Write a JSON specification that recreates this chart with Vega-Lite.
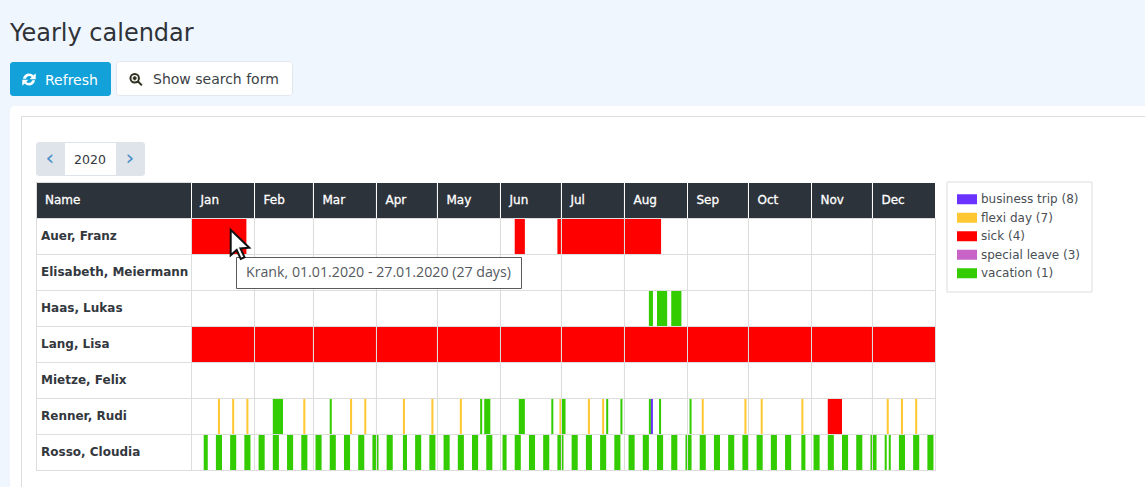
{
  "$schema": "https://vega.github.io/schema/vega-lite/v6.json",
  "width": 1145,
  "height": 487,
  "padding": 0,
  "autosize": {"type": "none"},
  "background": "#eff6fe",
  "config": {"view": {"stroke": null}, "font": "DejaVu Sans", "text": {"font": "DejaVu Sans"}},
  "datasets": {
    "names": [
      {"name": "Name"},
      {"name": "Auer, Franz"},
      {"name": "Elisabeth, Meiermann"},
      {"name": "Haas, Lukas"},
      {"name": "Lang, Lisa"},
      {"name": "Mietze, Felix"},
      {"name": "Renner, Rudi"},
      {"name": "Rosso, Cloudia"}
    ],
    "months": [
      {"month": "Jan", "from": 0, "to": 31},
      {"month": "Feb", "from": 31, "to": 60},
      {"month": "Mar", "from": 60, "to": 91},
      {"month": "Apr", "from": 91, "to": 121},
      {"month": "May", "from": 121, "to": 152},
      {"month": "Jun", "from": 152, "to": 182},
      {"month": "Jul", "from": 182, "to": 213},
      {"month": "Aug", "from": 213, "to": 244},
      {"month": "Sep", "from": 244, "to": 274},
      {"month": "Oct", "from": 274, "to": 305},
      {"month": "Nov", "from": 305, "to": 335},
      {"month": "Dec", "from": 335, "to": 366}
    ],
    "cells": [
      {"from": [0, 31, 60, 91, 121, 152, 182, 213, 244, 274, 305, 335], "to": [31, 60, 91, 121, 152, 182, 213, 244, 274, 305, 335, 366], "name": "Auer, Franz"},
      {"from": [0, 31, 60, 91, 121, 152, 182, 213, 244, 274, 305, 335], "to": [31, 60, 91, 121, 152, 182, 213, 244, 274, 305, 335, 366], "name": "Elisabeth, Meiermann"},
      {"from": [0, 31, 60, 91, 121, 152, 182, 213, 244, 274, 305, 335], "to": [31, 60, 91, 121, 152, 182, 213, 244, 274, 305, 335, 366], "name": "Haas, Lukas"},
      {"from": [0, 31, 60, 91, 121, 152, 182, 213, 244, 274, 305, 335], "to": [31, 60, 91, 121, 152, 182, 213, 244, 274, 305, 335, 366], "name": "Lang, Lisa"},
      {"from": [0, 31, 60, 91, 121, 152, 182, 213, 244, 274, 305, 335], "to": [31, 60, 91, 121, 152, 182, 213, 244, 274, 305, 335, 366], "name": "Mietze, Felix"},
      {"from": [0, 31, 60, 91, 121, 152, 182, 213, 244, 274, 305, 335], "to": [31, 60, 91, 121, 152, 182, 213, 244, 274, 305, 335, 366], "name": "Renner, Rudi"},
      {"from": [0, 31, 60, 91, 121, 152, 182, 213, 244, 274, 305, 335], "to": [31, 60, 91, 121, 152, 182, 213, 244, 274, 305, 335, 366], "name": "Rosso, Cloudia"}
    ],
    "absences": [
      {"name": "Auer, Franz", "type": "sick (4)", "from": 0, "to": 27},
      {"name": "Auer, Franz", "type": "sick (4)", "from": 159, "to": 164},
      {"name": "Auer, Franz", "type": "sick (4)", "from": 180, "to": 231},
      {"name": "Haas, Lukas", "type": "vacation (1)", "from": 225, "to": 227},
      {"name": "Haas, Lukas", "type": "vacation (1)", "from": 229, "to": 234},
      {"name": "Haas, Lukas", "type": "vacation (1)", "from": 236, "to": 241},
      {"name": "Lang, Lisa", "type": "sick (4)", "from": 0, "to": 366},
      {"name": "Renner, Rudi", "type": "flexi day (7)", "from": 13, "to": 14},
      {"name": "Renner, Rudi", "type": "flexi day (7)", "from": 20, "to": 21},
      {"name": "Renner, Rudi", "type": "flexi day (7)", "from": 27, "to": 28},
      {"name": "Renner, Rudi", "type": "vacation (1)", "from": 40, "to": 45},
      {"name": "Renner, Rudi", "type": "flexi day (7)", "from": 55, "to": 56},
      {"name": "Renner, Rudi", "type": "vacation (1)", "from": 68, "to": 69},
      {"name": "Renner, Rudi", "type": "flexi day (7)", "from": 78, "to": 79},
      {"name": "Renner, Rudi", "type": "flexi day (7)", "from": 85, "to": 86},
      {"name": "Renner, Rudi", "type": "flexi day (7)", "from": 104, "to": 105},
      {"name": "Renner, Rudi", "type": "flexi day (7)", "from": 118, "to": 119},
      {"name": "Renner, Rudi", "type": "flexi day (7)", "from": 132, "to": 133},
      {"name": "Renner, Rudi", "type": "vacation (1)", "from": 142, "to": 143},
      {"name": "Renner, Rudi", "type": "vacation (1)", "from": 144, "to": 147},
      {"name": "Renner, Rudi", "type": "vacation (1)", "from": 161, "to": 164},
      {"name": "Renner, Rudi", "type": "vacation (1)", "from": 177, "to": 178},
      {"name": "Renner, Rudi", "type": "flexi day (7)", "from": 181, "to": 182},
      {"name": "Renner, Rudi", "type": "vacation (1)", "from": 182, "to": 184},
      {"name": "Renner, Rudi", "type": "flexi day (7)", "from": 195, "to": 196},
      {"name": "Renner, Rudi", "type": "flexi day (7)", "from": 202, "to": 203},
      {"name": "Renner, Rudi", "type": "vacation (1)", "from": 204, "to": 205},
      {"name": "Renner, Rudi", "type": "vacation (1)", "from": 211, "to": 212},
      {"name": "Renner, Rudi", "type": "vacation (1)", "from": 225, "to": 226},
      {"name": "Renner, Rudi", "type": "business trip (8)", "from": 226, "to": 227},
      {"name": "Renner, Rudi", "type": "vacation (1)", "from": 230, "to": 231},
      {"name": "Renner, Rudi", "type": "vacation (1)", "from": 245, "to": 246},
      {"name": "Renner, Rudi", "type": "flexi day (7)", "from": 251, "to": 252},
      {"name": "Renner, Rudi", "type": "flexi day (7)", "from": 272, "to": 273},
      {"name": "Renner, Rudi", "type": "flexi day (7)", "from": 280, "to": 281},
      {"name": "Renner, Rudi", "type": "flexi day (7)", "from": 300, "to": 301},
      {"name": "Renner, Rudi", "type": "sick (4)", "from": 313, "to": 320},
      {"name": "Renner, Rudi", "type": "flexi day (7)", "from": 342, "to": 343},
      {"name": "Renner, Rudi", "type": "flexi day (7)", "from": 349, "to": 350},
      {"name": "Renner, Rudi", "type": "flexi day (7)", "from": 356, "to": 357},
      {"name": "Rosso, Cloudia", "type": "vacation (1)", "from": 6, "to": 8},
      {"name": "Rosso, Cloudia", "type": "vacation (1)", "from": 12, "to": 15},
      {"name": "Rosso, Cloudia", "type": "vacation (1)", "from": 19, "to": 22},
      {"name": "Rosso, Cloudia", "type": "vacation (1)", "from": 26, "to": 29},
      {"name": "Rosso, Cloudia", "type": "vacation (1)", "from": 33, "to": 36},
      {"name": "Rosso, Cloudia", "type": "vacation (1)", "from": 40, "to": 43},
      {"name": "Rosso, Cloudia", "type": "vacation (1)", "from": 47, "to": 50},
      {"name": "Rosso, Cloudia", "type": "vacation (1)", "from": 54, "to": 57},
      {"name": "Rosso, Cloudia", "type": "vacation (1)", "from": 61, "to": 64},
      {"name": "Rosso, Cloudia", "type": "vacation (1)", "from": 68, "to": 71},
      {"name": "Rosso, Cloudia", "type": "vacation (1)", "from": 75, "to": 78},
      {"name": "Rosso, Cloudia", "type": "vacation (1)", "from": 82, "to": 85},
      {"name": "Rosso, Cloudia", "type": "vacation (1)", "from": 89, "to": 91},
      {"name": "Rosso, Cloudia", "type": "vacation (1)", "from": 91, "to": 92},
      {"name": "Rosso, Cloudia", "type": "vacation (1)", "from": 96, "to": 99},
      {"name": "Rosso, Cloudia", "type": "vacation (1)", "from": 104, "to": 106},
      {"name": "Rosso, Cloudia", "type": "vacation (1)", "from": 110, "to": 113},
      {"name": "Rosso, Cloudia", "type": "vacation (1)", "from": 117, "to": 120},
      {"name": "Rosso, Cloudia", "type": "vacation (1)", "from": 124, "to": 127},
      {"name": "Rosso, Cloudia", "type": "vacation (1)", "from": 131, "to": 134},
      {"name": "Rosso, Cloudia", "type": "vacation (1)", "from": 138, "to": 141},
      {"name": "Rosso, Cloudia", "type": "vacation (1)", "from": 145, "to": 148},
      {"name": "Rosso, Cloudia", "type": "vacation (1)", "from": 153, "to": 155},
      {"name": "Rosso, Cloudia", "type": "vacation (1)", "from": 159, "to": 162},
      {"name": "Rosso, Cloudia", "type": "vacation (1)", "from": 166, "to": 169},
      {"name": "Rosso, Cloudia", "type": "vacation (1)", "from": 173, "to": 176},
      {"name": "Rosso, Cloudia", "type": "vacation (1)", "from": 180, "to": 182},
      {"name": "Rosso, Cloudia", "type": "vacation (1)", "from": 182, "to": 183},
      {"name": "Rosso, Cloudia", "type": "vacation (1)", "from": 187, "to": 190},
      {"name": "Rosso, Cloudia", "type": "vacation (1)", "from": 194, "to": 197},
      {"name": "Rosso, Cloudia", "type": "vacation (1)", "from": 201, "to": 204},
      {"name": "Rosso, Cloudia", "type": "vacation (1)", "from": 208, "to": 211},
      {"name": "Rosso, Cloudia", "type": "vacation (1)", "from": 215, "to": 218},
      {"name": "Rosso, Cloudia", "type": "vacation (1)", "from": 222, "to": 225},
      {"name": "Rosso, Cloudia", "type": "vacation (1)", "from": 229, "to": 232},
      {"name": "Rosso, Cloudia", "type": "vacation (1)", "from": 236, "to": 239},
      {"name": "Rosso, Cloudia", "type": "vacation (1)", "from": 243, "to": 244},
      {"name": "Rosso, Cloudia", "type": "vacation (1)", "from": 244, "to": 246},
      {"name": "Rosso, Cloudia", "type": "vacation (1)", "from": 250, "to": 253},
      {"name": "Rosso, Cloudia", "type": "vacation (1)", "from": 257, "to": 260},
      {"name": "Rosso, Cloudia", "type": "vacation (1)", "from": 264, "to": 267},
      {"name": "Rosso, Cloudia", "type": "vacation (1)", "from": 271, "to": 274},
      {"name": "Rosso, Cloudia", "type": "vacation (1)", "from": 278, "to": 281},
      {"name": "Rosso, Cloudia", "type": "vacation (1)", "from": 285, "to": 288},
      {"name": "Rosso, Cloudia", "type": "vacation (1)", "from": 292, "to": 295},
      {"name": "Rosso, Cloudia", "type": "vacation (1)", "from": 300, "to": 302},
      {"name": "Rosso, Cloudia", "type": "vacation (1)", "from": 306, "to": 309},
      {"name": "Rosso, Cloudia", "type": "vacation (1)", "from": 313, "to": 316},
      {"name": "Rosso, Cloudia", "type": "vacation (1)", "from": 320, "to": 323},
      {"name": "Rosso, Cloudia", "type": "vacation (1)", "from": 327, "to": 330},
      {"name": "Rosso, Cloudia", "type": "vacation (1)", "from": 334, "to": 335},
      {"name": "Rosso, Cloudia", "type": "vacation (1)", "from": 335, "to": 337},
      {"name": "Rosso, Cloudia", "type": "vacation (1)", "from": 341, "to": 342},
      {"name": "Rosso, Cloudia", "type": "vacation (1)", "from": 343, "to": 344},
      {"name": "Rosso, Cloudia", "type": "vacation (1)", "from": 348, "to": 351},
      {"name": "Rosso, Cloudia", "type": "vacation (1)", "from": 355, "to": 358},
      {"name": "Rosso, Cloudia", "type": "vacation (1)", "from": 362, "to": 365}
    ]
  },
  "resolve": {"scale": {"x": "independent", "y": "independent", "color": "independent"}},
  "layer": [
    {
      "data": {"values": [{"item": "panel"}]},
      "mark": {"type": "rect", "fill": "#ffffff", "cornerRadius": 5, "clip": true},
      "encoding": {
        "x": {"field": "item", "type": "nominal", "axis": null, "scale": {"type": "band", "range": [10, 1170], "padding": 0}},
        "y": {"field": "item", "type": "nominal", "axis": null, "scale": {"type": "band", "range": [106, 510], "padding": 0}}
      }
    },
    {
      "data": {"values": [{"item": "box"}]},
      "mark": {"type": "rect", "fill": "#ffffff", "stroke": "#dddddd", "clip": true},
      "encoding": {
        "x": {"field": "item", "type": "nominal", "axis": null, "scale": {"type": "band", "range": [21.5, 1170], "padding": 0}},
        "y": {"field": "item", "type": "nominal", "axis": null, "scale": {"type": "band", "range": [116.5, 510], "padding": 0}}
      }
    },
    {
      "data": {"values": [{"label": "Yearly calendar"}]},
      "mark": {"type": "text", "align": "left", "baseline": "middle", "fontSize": 24, "color": "#2f3338"},
      "encoding": {
        "text": {"field": "label"},
        "x": {"field": "label", "type": "nominal", "axis": null, "scale": {"type": "point", "range": [10, 10], "padding": 0}},
        "y": {"field": "label", "type": "nominal", "axis": null, "scale": {"type": "point", "range": [34, 34], "padding": 0}}
      }
    },
    {
      "data": {"values": [{"item": "Refresh"}]},
      "mark": {"type": "rect", "fill": "#12a2d9", "cornerRadius": 3},
      "encoding": {
        "x": {"field": "item", "type": "nominal", "axis": null, "scale": {"type": "band", "range": [10, 111], "padding": 0}},
        "y": {"field": "item", "type": "nominal", "axis": null, "scale": {"type": "band", "range": [62, 96], "padding": 0}}
      }
    },
    {
      "data": {"values": [{"item": "Refresh"}]},
      "mark": {"type": "text", "align": "left", "baseline": "middle", "fontSize": 14, "color": "#ffffff"},
      "encoding": {
        "text": {"field": "item"},
        "x": {"field": "item", "type": "nominal", "axis": null, "scale": {"type": "point", "range": [45, 45], "padding": 0}},
        "y": {"field": "item", "type": "nominal", "axis": null, "scale": {"type": "point", "range": [81, 81], "padding": 0}}
      }
    },
    {
      "data": {"values": [{"item": "refresh icon"}]},
      "mark": {"type": "point", "filled": true, "color": "#ffffff", "opacity": 1, "size": 200, "shape": "M-0.85,-0.1 A0.85,0.85 0 0 1 0.62,-0.58 L0.95,-0.9 V-0.05 H0.1 L0.38,-0.35 A0.5,0.5 0 0 0 -0.45,-0.1 Z M0.85,0.1 A0.85,0.85 0 0 1 -0.62,0.58 L-0.95,0.9 V0.05 H-0.1 L-0.38,0.35 A0.5,0.5 0 0 0 0.45,0.1 Z"},
      "encoding": {
        "x": {"field": "item", "type": "nominal", "axis": null, "scale": {"type": "point", "range": [29, 29], "padding": 0}},
        "y": {"field": "item", "type": "nominal", "axis": null, "scale": {"type": "point", "range": [79.5, 79.5], "padding": 0}}
      }
    },
    {
      "data": {"values": [{"item": "search"}]},
      "mark": {"type": "rect", "fill": "#ffffff", "stroke": "#e3e8ee", "cornerRadius": 3},
      "encoding": {
        "x": {"field": "item", "type": "nominal", "axis": null, "scale": {"type": "band", "range": [116.5, 292.5], "padding": 0}},
        "y": {"field": "item", "type": "nominal", "axis": null, "scale": {"type": "band", "range": [61.5, 95.5], "padding": 0}}
      }
    },
    {
      "data": {"values": [{"item": "Show search form"}]},
      "mark": {"type": "text", "align": "left", "baseline": "middle", "fontSize": 14, "color": "#3a3f45"},
      "encoding": {
        "text": {"field": "item"},
        "x": {"field": "item", "type": "nominal", "axis": null, "scale": {"type": "point", "range": [153, 153], "padding": 0}},
        "y": {"field": "item", "type": "nominal", "axis": null, "scale": {"type": "point", "range": [80, 80], "padding": 0}}
      }
    },
    {
      "data": {"values": [{"item": "search icon"}]},
      "mark": {"type": "point", "filled": false, "color": "#2f2f1f", "opacity": 1, "strokeWidth": 2, "size": 170, "shape": "M0.45,-0.2 A0.65,0.65 0 1 1 -0.85,-0.2 A0.65,0.65 0 1 1 0.45,-0.2 Z M-0.2,-0.5 V0.1 M-0.5,-0.2 H0.1 M0.28,0.28 L0.9,0.9"},
      "encoding": {
        "x": {"field": "item", "type": "nominal", "axis": null, "scale": {"type": "point", "range": [136, 136], "padding": 0}},
        "y": {"field": "item", "type": "nominal", "axis": null, "scale": {"type": "point", "range": [79.5, 79.5], "padding": 0}}
      }
    },
    {
      "data": {"values": [{"item": "pager"}]},
      "mark": {"type": "rect", "fill": "#dfe4ea", "cornerRadius": 3},
      "encoding": {
        "x": {"field": "item", "type": "nominal", "axis": null, "scale": {"type": "band", "range": [36, 145], "padding": 0}},
        "y": {"field": "item", "type": "nominal", "axis": null, "scale": {"type": "band", "range": [142, 176], "padding": 0}}
      }
    },
    {
      "data": {"values": [{"item": "year"}]},
      "mark": {"type": "rect", "fill": "#ffffff"},
      "encoding": {
        "x": {"field": "item", "type": "nominal", "axis": null, "scale": {"type": "band", "range": [65, 116], "padding": 0}},
        "y": {"field": "item", "type": "nominal", "axis": null, "scale": {"type": "band", "range": [143, 175], "padding": 0}}
      }
    },
    {
      "data": {"values": [{"item": "2020"}]},
      "mark": {"type": "text", "align": "center", "baseline": "middle", "fontSize": 12.5, "color": "#33383e"},
      "encoding": {
        "text": {"field": "item"},
        "x": {"field": "item", "type": "nominal", "axis": null, "scale": {"type": "point", "range": [90, 90], "padding": 0}},
        "y": {"field": "item", "type": "nominal", "axis": null, "scale": {"type": "point", "range": [160, 160], "padding": 0}}
      }
    },
    {
      "data": {"values": [{"item": "‹"}, {"item": "›"}]},
      "mark": {"type": "text", "align": "center", "baseline": "middle", "fontSize": 22, "color": "#4a8fc9"},
      "encoding": {
        "text": {"field": "item"},
        "x": {"field": "item", "type": "nominal", "axis": null, "scale": {"type": "point", "domain": ["‹", "›"], "range": [50, 130], "padding": 0}},
        "y": {"datum": "arrow", "type": "nominal", "axis": null, "scale": {"type": "point", "range": [158, 158], "padding": 0}}
      }
    },
    {
      "data": {"name": "names"},
      "encoding": {
        "x": {"datum": "Name column", "type": "nominal", "axis": null, "scale": {"type": "band", "range": [36.5, 191.5], "padding": 0}},
        "y": {"field": "name", "type": "nominal", "axis": null, "scale": {"type": "band", "domain": ["Name", "Auer, Franz", "Elisabeth, Meiermann", "Haas, Lukas", "Lang, Lisa", "Mietze, Felix", "Renner, Rudi", "Rosso, Cloudia"], "range": [182.5, 470.5], "padding": 0}}
      },
      "layer": [
        {"mark": {"type": "rect", "fill": "#ffffff", "stroke": "#dddddd"}},
        {
          "transform": [{"filter": "datum.name === 'Name'"}],
          "mark": {"type": "rect", "fill": "#2d333b", "stroke": "#dddddd"}
        },
        {
          "transform": [{"filter": "datum.name !== 'Name'"}],
          "mark": {"type": "text", "align": "left", "baseline": "middle", "dx": -73, "dy": -1, "fontSize": 12, "fontWeight": "bold", "color": "#33383e"},
          "encoding": {"text": {"field": "name"}}
        },
        {
          "transform": [{"filter": "datum.name === 'Name'"}],
          "mark": {"type": "text", "align": "left", "baseline": "middle", "dx": -69, "dy": -1, "fontSize": 12, "color": "#ffffff", "stroke": "#ffffff", "strokeWidth": 0.3},
          "encoding": {"text": {"field": "name"}}
        }
      ]
    },
    {
      "encoding": {
        "x": {"field": "from", "type": "quantitative", "axis": null, "scale": {"domain": [0, 366], "range": [191.5, 935.5], "nice": false, "zero": false}},
        "x2": {"field": "to"},
        "y": {"field": "name", "type": "nominal", "axis": null, "scale": {"type": "band", "domain": ["Name", "Auer, Franz", "Elisabeth, Meiermann", "Haas, Lukas", "Lang, Lisa", "Mietze, Felix", "Renner, Rudi", "Rosso, Cloudia"], "range": [182.5, 470.5], "padding": 0}}
      },
      "layer": [
        {
          "data": {"name": "months"},
          "mark": {"type": "rect", "fill": "#2d333b", "stroke": "#ffffff"},
          "encoding": {"y": {"datum": "Name"}}
        },
        {
          "data": {"name": "absences"},
          "mark": {"type": "rect"},
          "encoding": {
            "color": {
              "field": "type",
              "type": "nominal",
              "scale": {
                "domain": ["business trip (8)", "flexi day (7)", "sick (4)", "special leave (3)", "vacation (1)"],
                "range": ["#6a33ff", "#ffc832", "#ff0000", "#c864c8", "#33cc00"]
              },
              "legend": {
                "title": null,
                "orient": "none",
                "legendX": 946.5,
                "legendY": 181.5,
                "padding": 10.5,
                "strokeColor": "#dddddd",
                "fillColor": "#ffffff",
                "symbolType": "M-1,-0.5H1V0.5H-1Z",
                "symbolSize": 400,
                "symbolStrokeWidth": 0,
                "labelFont": "DejaVu Sans",
                "labelFontSize": 12,
                "labelColor": "#4a4f55",
                "labelOffset": 4,
                "rowPadding": 3.5,
                "clipHeight": 14.5
              }
            }
          }
        },
        {
          "data": {"name": "cells"},
          "transform": [{"flatten": ["from", "to"]}],
          "mark": {"type": "rect", "stroke": "#dddddd", "strokeWidth": 1, "fillOpacity": 0}
        },
        {
          "data": {"name": "months"},
          "mark": {"type": "text", "align": "left", "baseline": "middle", "dx": 9, "dy": -1, "fontSize": 12, "color": "#ffffff", "stroke": "#ffffff", "strokeWidth": 0.3},
          "encoding": {"text": {"field": "month"}, "y": {"datum": "Name"}, "x2": null}
        }
      ]
    },
    {
      "data": {"values": [{"item": "hint"}]},
      "mark": {"type": "rect", "fill": "#ffffff", "stroke": "#5a5a5a"},
      "encoding": {
        "x": {"field": "item", "type": "nominal", "axis": null, "scale": {"type": "band", "range": [236.5, 521.5], "padding": 0}},
        "y": {"field": "item", "type": "nominal", "axis": null, "scale": {"type": "band", "range": [257.5, 288.5], "padding": 0}}
      }
    },
    {
      "data": {"values": [{"item": "Krank, 01.01.2020 - 27.01.2020 (27 days)"}]},
      "mark": {"type": "text", "align": "left", "baseline": "middle", "font": "Open Sans", "fontSize": 14.2, "color": "#555a60"},
      "encoding": {
        "text": {"field": "item"},
        "x": {"field": "item", "type": "nominal", "axis": null, "scale": {"type": "point", "range": [246, 246], "padding": 0}},
        "y": {"field": "item", "type": "nominal", "axis": null, "scale": {"type": "point", "range": [273, 273], "padding": 0}}
      }
    },
    {
      "data": {"values": [{"item": "cursor"}]},
      "mark": {"type": "point", "filled": true, "fill": "#ffffff", "stroke": "#111111", "strokeWidth": 2, "opacity": 1, "size": 900, "shape": "M-0.62,-0.95 L-0.62,0.75 L-0.22,0.4 L0.05,1 L0.3,0.88 L0.03,0.3 L0.62,0.25 Z"},
      "encoding": {
        "x": {"field": "item", "type": "nominal", "axis": null, "scale": {"type": "point", "range": [240, 240], "padding": 0}},
        "y": {"field": "item", "type": "nominal", "axis": null, "scale": {"type": "point", "range": [244, 244], "padding": 0}}
      }
    }
  ]
}
